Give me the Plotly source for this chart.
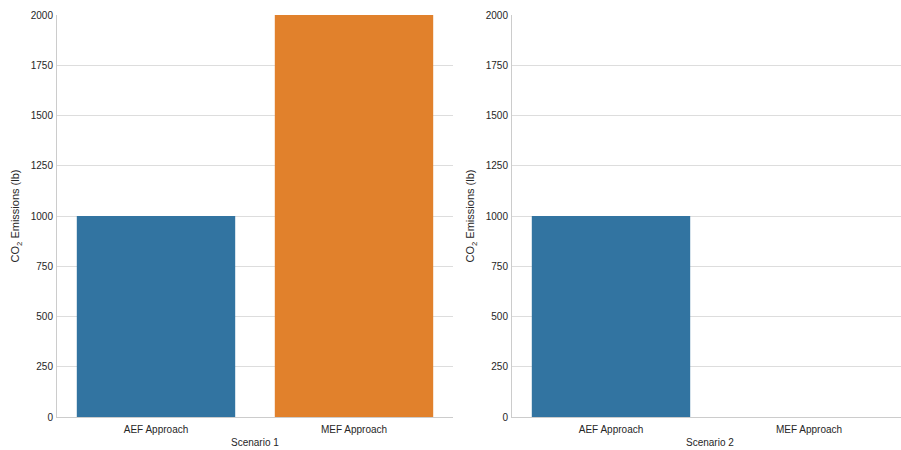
import plotly.graph_objects as go
from plotly.subplots import make_subplots

approaches = ["AEF Approach", "MEF Approach"]
scenario1 = [1000, 2000]
scenario2 = [1000, 0]
bar_colors = ["#3274a1", "#e1812c"]
y_ticks = [0, 250, 500, 750, 1000, 1250, 1500, 1750, 2000]
scenario_titles = ["Scenario 1", "Scenario 2"]

W, H = 901, 450
font_family = "Liberation Sans, Arial, sans-serif"
grid_c = "#dddddd"
axis_c = "#cccccc"
text_c = "#262626"

fig = make_subplots(rows=1, cols=2)

for col, vals in [(1, scenario1), (2, scenario2)]:
    fig.add_trace(
        go.Bar(
            x=approaches,
            y=vals,
            marker=dict(color=bar_colors, line=dict(width=0)),
            width=0.8,
            showlegend=False,
            hoverinfo="x+y",
        ),
        row=1, col=col,
    )

# Left panel spans 57..453 px; right panel begins at 512 px and runs off the canvas edge
left_dom = [57 / W, 453 / W]
right_dom = [512 / W, 1.0]
cat_px = (453 - 57) / 2
right_span = (W - 512) / cat_px

axis_common = dict(
    showgrid=False,
    showline=True,
    linecolor=axis_c,
    linewidth=1,
    ticks="",
    ticklabelstandoff=3,
    tickfont=dict(size=10, color=text_c, family=font_family),
    zeroline=False,
)
fig.update_xaxes(**axis_common)
fig.update_xaxes(domain=left_dom, range=[-0.5, 1.5], row=1, col=1)
fig.update_xaxes(domain=right_dom, range=[-0.5, -0.5 + right_span], row=1, col=2)

fig.update_yaxes(
    range=[0, 2000],
    tickvals=y_ticks,
    showgrid=True,
    gridcolor=grid_c,
    gridwidth=1,
    showline=True,
    linecolor=axis_c,
    linewidth=1,
    ticks="",
    ticklabelstandoff=1,
    tickfont=dict(size=10, color=text_c, family=font_family),
    zeroline=False,
    title=dict(
        text="CO<sub>2</sub> Emissions (lb)",
        font=dict(size=11, color=text_c, family=font_family),
        standoff=8,
    ),
)

# Axis titles centred on each full category axis
plot_top, plot_bot = 15, 417
centers = [(57 + 453) / 2, (512 + 512 + 2 * cat_px) / 2]
for cx, t in zip(centers, scenario_titles):
    fig.add_annotation(
        x=cx / W, y=(plot_bot - 442) / (plot_bot - plot_top),
        xref="paper", yref="paper",
        yanchor="middle", xanchor="center",
        text=t, showarrow=False,
        font=dict(size=10, color=text_c, family=font_family),
    )

fig.update_layout(
    width=W,
    height=H,
    margin=dict(l=0, r=0, t=plot_top, b=H - plot_bot),
    paper_bgcolor="white",
    plot_bgcolor="white",
    bargap=0.2,
    font=dict(family=font_family, color=text_c),
)

fig.write_html("out.html")
